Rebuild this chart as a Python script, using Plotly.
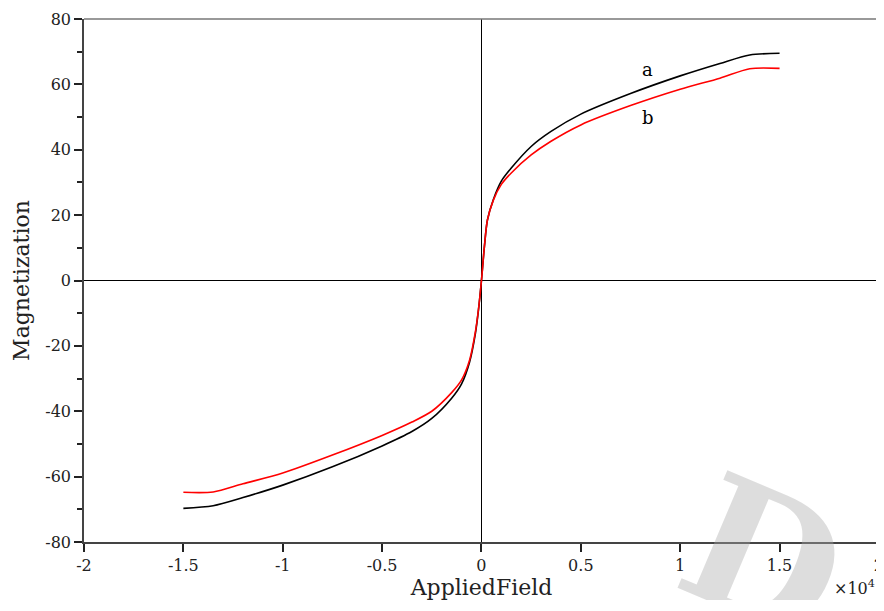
import plotly.graph_objects as go

# Applied field (x 10^4)
field = [-1.5, -1.35, -1.2, -1.0, -0.75, -0.5, -0.35, -0.25, -0.15, -0.1, -0.06, -0.03, -0.015, 0.0,
         0.015, 0.03, 0.06, 0.1, 0.15, 0.25, 0.35, 0.5, 0.75, 1.0, 1.2, 1.35, 1.5]
mag_a = [-69.7, -68.9, -66.4, -62.6, -57.0, -50.6, -46.2, -42.2, -36.0, -31.6, -25.0, -16.0, -9.0, 0.0,
         10.5, 18.5, 24.8, 30.4, 34.4, 41.0, 45.6, 50.9, 57.2, 62.6, 66.4, 69.0, 69.5]
mag_b = [-64.8, -64.7, -62.2, -58.9, -53.4, -47.4, -43.3, -40.0, -34.3, -30.4, -24.4, -15.5, -8.8, 0.0,
         10.5, 18.5, 24.6, 29.4, 32.9, 38.4, 42.6, 47.6, 53.5, 58.5, 61.9, 64.8, 64.9]

x_ticks = [-2, -1.5, -1, -0.5, 0, 0.5, 1, 1.5, 2]
x_ticktext = ["-2", "-1.5", "-1", "-0.5", "0", "0.5", "1", "1.5", "2"]
y_ticks = [-80, -60, -40, -20, 0, 20, 40, 60, 80]
y_ticktext = ["-80", "-60", "-40", "-20", "0", "20", "40", "60", "80"]
y_minor = [-70, -50, -30, -10, 10, 30, 50, 70]

FONT = "DejaVu Serif"

fig = go.Figure()
fig.add_trace(go.Scatter(x=field, y=mag_a, mode="lines", name="a",
                         line=dict(color="black", width=1.6, shape="spline", smoothing=0.8)))
fig.add_trace(go.Scatter(x=field, y=mag_b, mode="lines", name="b",
                         line=dict(color="red", width=1.6, shape="spline", smoothing=0.8)))

# the page body has an 8px margin; keep the page from overflowing the window
fig.update_layout(
    width=876, height=592,
    margin=dict(l=76, r=5, t=11, b=58),
    paper_bgcolor="white", plot_bgcolor="white",
    showlegend=False,
    font=dict(family=FONT, size=16, color="#222"),
    xaxis=dict(
        range=[-2, 2.0004], tickmode="array", tickvals=x_ticks, ticktext=x_ticktext,
        ticks="outside", ticklen=8, tickwidth=2, tickcolor="#222", automargin=False,
        ticklabeloverflow="allow",
        showline=True, linecolor="#444", linewidth=1.5,
        showgrid=False, zeroline=True, zerolinecolor="black", zerolinewidth=1,
        title=dict(text="AppliedField", font=dict(size=22, family=FONT), standoff=10),
        tickfont=dict(size=16, family=FONT),
    ),
    yaxis=dict(
        range=[-80, 80], tickmode="array", tickvals=y_ticks, ticktext=y_ticktext,
        ticks="outside", ticklen=8, tickwidth=2, tickcolor="#222", automargin=False,
        ticklabeloverflow="allow",
        minor=dict(tickmode="array", tickvals=y_minor, ticks="outside", ticklen=5,
                   tickwidth=2, tickcolor="#222", showgrid=False),
        showline=True, linecolor="#444", linewidth=1.5,
        showgrid=False, zeroline=True, zerolinecolor="black", zerolinewidth=1,
        title=dict(text="Magnetization", font=dict(size=22, family=FONT), standoff=10),
        tickfont=dict(size=16, family=FONT),
    ),
    shapes=[
        dict(type="line", xref="paper", yref="paper", x0=0, x1=1, y0=1, y1=1,
             line=dict(color="#777", width=1.5)),
        dict(type="line", xref="paper", yref="paper", x0=1, x1=1, y0=0, y1=1,
             line=dict(color="#777", width=1.5)),
    ],
    annotations=[
        dict(x=0.835, y=64.5, text="a", showarrow=False, font=dict(size=18, family=FONT, color="black")),
        dict(x=0.84, y=50.0, text="b", showarrow=False, font=dict(size=18, family=FONT, color="black")),
        dict(xref="paper", yref="paper", x=0.998, y=-0.11, xanchor="right", yanchor="bottom",
             text="×10<sup>4</sup>", showarrow=False, font=dict(size=16, family=FONT, color="#222")),
        dict(xref="paper", yref="paper", x=0.855, y=-0.03, xanchor="center", yanchor="middle",
             text="<b>D</b>", showarrow=False, textangle=23,
             font=dict(size=175, family=FONT, color="rgba(170,170,170,0.4)")),
    ],
)

fig.write_html("out.html")
